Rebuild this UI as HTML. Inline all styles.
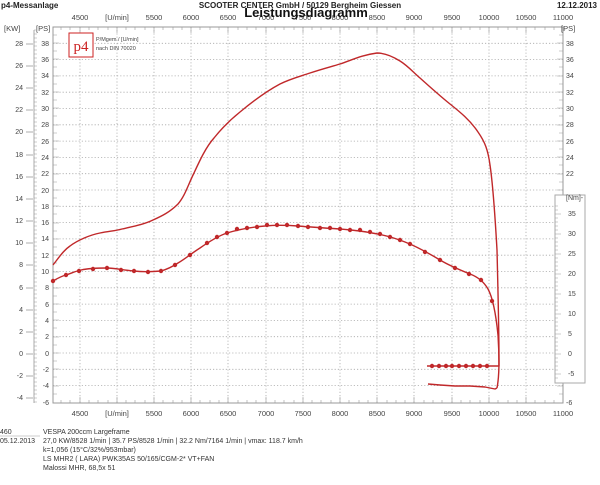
<!DOCTYPE html>
<html><head><meta charset="utf-8"><style>
html,body{margin:0;padding:0;background:#fff;}
svg{display:block;font-family:"Liberation Sans",sans-serif;}
</style></head><body>
<svg width="600" height="485" viewBox="0 0 600 485" xmlns="http://www.w3.org/2000/svg">
<rect width="600" height="485" fill="#fff"/>
<text x="1" y="8" font-size="8" font-weight="bold" fill="#222">p4-Messanlage</text>
<text x="300" y="8" font-size="8" font-weight="bold" fill="#222" text-anchor="middle">SCOOTER CENTER GmbH / 50129 Bergheim Giessen</text>
<text x="597" y="8" font-size="8" font-weight="bold" fill="#222" text-anchor="end">12.12.2013</text>
<g font-size="7.5" fill="#444" text-anchor="middle">
<text x="80" y="20">4500</text><text x="117" y="20">[U/min]</text><text x="154" y="20">5500</text><text x="191" y="20">6000</text><text x="228" y="20">6500</text><text x="266" y="20">7000</text><text x="303" y="20">7500</text><text x="340" y="20">8000</text><text x="377" y="20">8500</text><text x="414" y="20">9000</text><text x="452" y="20">9500</text><text x="489" y="20">10000</text><text x="526" y="20">10500</text><text x="563" y="20">11000</text>
<text x="80" y="416">4500</text><text x="117" y="416">[U/min]</text><text x="154" y="416">5500</text><text x="191" y="416">6000</text><text x="228" y="416">6500</text><text x="266" y="416">7000</text><text x="303" y="416">7500</text><text x="340" y="416">8000</text><text x="377" y="416">8500</text><text x="414" y="416">9000</text><text x="452" y="416">9500</text><text x="489" y="416">10000</text><text x="526" y="416">10500</text><text x="563" y="416">11000</text>
</g>
<text x="306" y="17" font-size="13" font-weight="bold" fill="#111" text-anchor="middle">Leistungsdiagramm</text>
<g stroke="#aaa" stroke-width="0.8" stroke-dasharray="1.2,2">
<line x1="80" y1="27" x2="80" y2="403"/><line x1="117" y1="27" x2="117" y2="403"/><line x1="154" y1="27" x2="154" y2="403"/><line x1="191" y1="27" x2="191" y2="403"/><line x1="228" y1="27" x2="228" y2="403"/><line x1="266" y1="27" x2="266" y2="403"/><line x1="303" y1="27" x2="303" y2="403"/><line x1="340" y1="27" x2="340" y2="403"/><line x1="377" y1="27" x2="377" y2="403"/><line x1="414" y1="27" x2="414" y2="403"/><line x1="452" y1="27" x2="452" y2="403"/><line x1="489" y1="27" x2="489" y2="403"/><line x1="526" y1="27" x2="526" y2="403"/>
<line x1="53" y1="43.3" x2="563" y2="43.3"/><line x1="53" y1="59.6" x2="563" y2="59.6"/><line x1="53" y1="75.9" x2="563" y2="75.9"/><line x1="53" y1="92.2" x2="563" y2="92.2"/><line x1="53" y1="108.5" x2="563" y2="108.5"/><line x1="53" y1="124.8" x2="563" y2="124.8"/><line x1="53" y1="141.1" x2="563" y2="141.1"/><line x1="53" y1="157.4" x2="563" y2="157.4"/><line x1="53" y1="173.7" x2="563" y2="173.7"/><line x1="53" y1="190" x2="563" y2="190"/><line x1="53" y1="206.3" x2="563" y2="206.3"/><line x1="53" y1="222.6" x2="563" y2="222.6"/><line x1="53" y1="238.9" x2="563" y2="238.9"/><line x1="53" y1="255.2" x2="563" y2="255.2"/><line x1="53" y1="271.5" x2="563" y2="271.5"/><line x1="53" y1="287.8" x2="563" y2="287.8"/><line x1="53" y1="304.1" x2="563" y2="304.1"/><line x1="53" y1="320.4" x2="563" y2="320.4"/><line x1="53" y1="336.7" x2="563" y2="336.7"/><line x1="53" y1="353" x2="563" y2="353"/><line x1="53" y1="369.3" x2="563" y2="369.3"/><line x1="53" y1="385.6" x2="563" y2="385.6"/>
</g>
<rect x="53" y="27" width="510" height="376" fill="none" stroke="#999" stroke-width="1"/>
<g font-size="7.5" fill="#444">
<text x="4" y="31">[KW]</text><text x="36" y="31">[PS]</text>
<text x="561" y="31">[PS]</text>
</g>
<g font-size="7" fill="#444" text-anchor="end">
<text x="23" y="46">28</text><text x="23" y="68">26</text><text x="23" y="90">24</text><text x="23" y="112">22</text><text x="23" y="134">20</text><text x="23" y="157">18</text><text x="23" y="179">16</text><text x="23" y="201">14</text><text x="23" y="223">12</text><text x="23" y="245">10</text><text x="23" y="267">8</text><text x="23" y="290">6</text><text x="23" y="312">4</text><text x="23" y="334">2</text><text x="23" y="356">0</text><text x="23" y="378">-2</text><text x="23" y="400">-4</text>
<text x="49" y="46">38</text><text x="49" y="62">36</text><text x="49" y="78">34</text><text x="49" y="95">32</text><text x="49" y="111">30</text><text x="49" y="127">28</text><text x="49" y="144">26</text><text x="49" y="160">24</text><text x="49" y="176">22</text><text x="49" y="193">20</text><text x="49" y="209">18</text><text x="49" y="225">16</text><text x="49" y="241">14</text><text x="49" y="258">12</text><text x="49" y="274">10</text><text x="49" y="290">8</text><text x="49" y="307">6</text><text x="49" y="323">4</text><text x="49" y="339">2</text><text x="49" y="356">0</text><text x="49" y="372">-2</text><text x="49" y="388">-4</text><text x="49" y="405">-6</text>
</g>
<g font-size="7" fill="#444">
<text x="566" y="46">38</text><text x="566" y="62">36</text><text x="566" y="78">34</text><text x="566" y="95">32</text><text x="566" y="111">30</text><text x="566" y="127">28</text><text x="566" y="144">26</text><text x="566" y="160">24</text><text x="566" y="176">22</text><text x="566" y="405">-6</text>
</g>
<g stroke="#888" stroke-width="0.7">
<line x1="34" y1="30" x2="34" y2="403"/>
<line x1="26" y1="44" x2="33" y2="44"/><line x1="26" y1="66" x2="33" y2="66"/><line x1="26" y1="88" x2="33" y2="88"/><line x1="26" y1="110" x2="33" y2="110"/><line x1="26" y1="132" x2="33" y2="132"/><line x1="26" y1="155" x2="33" y2="155"/><line x1="26" y1="177" x2="33" y2="177"/><line x1="26" y1="199" x2="33" y2="199"/><line x1="26" y1="221" x2="33" y2="221"/><line x1="26" y1="243" x2="33" y2="243"/><line x1="26" y1="265" x2="33" y2="265"/><line x1="26" y1="288" x2="33" y2="288"/><line x1="26" y1="310" x2="33" y2="310"/><line x1="26" y1="332" x2="33" y2="332"/><line x1="26" y1="354" x2="33" y2="354"/><line x1="26" y1="376" x2="33" y2="376"/><line x1="26" y1="398" x2="33" y2="398"/>
</g>
<g stroke="#999" stroke-width="0.6">
<path d="M34 30h3M34 34h3M34 38h3M34 42h3M34 46h3M34 50h3M34 54h3M34 58h3M34 62h3M34 66h3M34 70h3M34 74h3M34 78h3M34 82h3M34 86h3M34 90h3M34 94h3M34 98h3M34 102h3M34 106h3M34 110h3M34 114h3M34 118h3M34 122h3M34 126h3M34 130h3M34 134h3M34 138h3M34 142h3M34 146h3M34 150h3M34 154h3M34 158h3M34 162h3M34 166h3M34 170h3M34 174h3M34 178h3M34 182h3M34 186h3M34 190h3M34 194h3M34 198h3M34 202h3M34 206h3M34 210h3M34 214h3M34 218h3M34 222h3M34 226h3M34 230h3M34 234h3M34 238h3M34 242h3M34 246h3M34 250h3M34 254h3M34 258h3M34 262h3M34 266h3M34 270h3M34 274h3M34 278h3M34 282h3M34 286h3M34 290h3M34 294h3M34 298h3M34 302h3M34 306h3M34 310h3M34 314h3M34 318h3M34 322h3M34 326h3M34 330h3M34 334h3M34 338h3M34 342h3M34 346h3M34 350h3M34 354h3M34 358h3M34 362h3M34 366h3M34 370h3M34 374h3M34 378h3M34 382h3M34 386h3M34 390h3M34 394h3M34 398h3M34 402h3"/>
<path d="M53 35h4M53 43h6M53 51h4M53 59h6M53 67h4M53 76h6M53 84h4M53 92h6M53 100h4M53 108h6M53 116h4M53 125h6M53 133h4M53 141h6M53 149h4M53 157h6M53 165h4M53 174h6M53 182h4M53 190h6M53 198h4M53 206h6M53 214h4M53 223h6M53 231h4M53 239h6M53 247h4M53 255h6M53 263h4M53 272h6M53 280h4M53 288h6M53 296h4M53 304h6M53 312h4M53 320h6M53 328h4M53 337h6M53 345h4M53 353h6M53 361h4M53 369h6M53 377h4M53 386h6M53 394h4"/>
<path d="M563 35h-4M563 43h-6M563 51h-4M563 59h-6M563 67h-4M563 76h-6M563 84h-4M563 92h-6M563 100h-4M563 108h-6M563 116h-4M563 125h-6M563 133h-4M563 141h-6M563 149h-4M563 157h-6M563 165h-4M563 174h-6M563 182h-4M563 190h-6M563 386h-6M563 394h-4"/>
<path d="M53 403v-4M61 403v-3M70 403v-3M80 403v-6M89 403v-3M98 403v-3M108 403v-3M117 403v-6M126 403v-3M135 403v-3M145 403v-3M154 403v-6M163 403v-3M173 403v-3M182 403v-3M191 403v-6M200 403v-3M210 403v-3M219 403v-3M228 403v-6M238 403v-3M247 403v-3M256 403v-3M266 403v-6M275 403v-3M284 403v-3M294 403v-3M303 403v-6M312 403v-3M321 403v-3M331 403v-3M340 403v-6M349 403v-3M359 403v-3M368 403v-3M377 403v-6M387 403v-3M396 403v-3M405 403v-3M414 403v-6M424 403v-3M433 403v-3M442 403v-3M452 403v-6M461 403v-3M470 403v-3M480 403v-3M489 403v-6M498 403v-3M508 403v-3M517 403v-3M526 403v-6M535 403v-3M545 403v-3M554 403v-3"/>
<path d="M53 27v4M61 27v3M70 27v3M80 27v6M89 27v3M98 27v3M108 27v3M117 27v6M126 27v3M135 27v3M145 27v3M154 27v6M163 27v3M173 27v3M182 27v3M191 27v6M200 27v3M210 27v3M219 27v3M228 27v6M238 27v3M247 27v3M256 27v3M266 27v6M275 27v3M284 27v3M294 27v3M303 27v6M312 27v3M321 27v3M331 27v3M340 27v6M349 27v3M359 27v3M368 27v3M377 27v6M387 27v3M396 27v3M405 27v3M414 27v6M424 27v3M433 27v3M442 27v3M452 27v6M461 27v3M470 27v3M480 27v3M489 27v6M498 27v3M508 27v3M517 27v3M526 27v6M535 27v3M545 27v3M554 27v3"/>
</g>
<rect x="555" y="195" width="30" height="188" fill="#fff" stroke="#aaa" stroke-width="1"/>
<g stroke="#999" stroke-width="0.6">
<path d="M555 214h6M555 234h6M555 254h6M555 274h6M555 294h6M555 314h6M555 334h6M555 354h6M555 374h6"/>
<path d="M555 206h3M555 210h3M555 218h3M555 222h3M555 226h3M555 230h3M555 238h3M555 242h3M555 246h3M555 250h3M555 258h3M555 262h3M555 266h3M555 270h3M555 278h3M555 282h3M555 286h3M555 290h3M555 298h3M555 302h3M555 306h3M555 310h3M555 318h3M555 322h3M555 326h3M555 330h3M555 338h3M555 342h3M555 346h3M555 350h3M555 358h3M555 362h3M555 366h3M555 370h3M555 378h3"/>
</g>
<g font-size="7" fill="#444">
<text x="566" y="200">[Nm]-</text>
<text x="568" y="216">35</text><text x="568" y="236">30</text><text x="568" y="256">25</text><text x="568" y="276">20</text><text x="568" y="296">15</text><text x="568" y="316">10</text><text x="568" y="336">5</text><text x="568" y="356">0</text><text x="568" y="376">-5</text>
</g>
<rect x="69" y="33" width="24" height="24" fill="#fff" stroke="#c22" stroke-width="1"/>
<text x="81" y="51" font-size="15" fill="#c22" text-anchor="middle" font-family="Liberation Serif,serif">p4</text>
<text x="96" y="41" font-size="5.5" fill="#444">P/Mgem / [U/min]</text>
<text x="96" y="50" font-size="5.5" fill="#444">nach DIN 70020</text>
<g fill="none" stroke="#c0282a" stroke-width="1.4" stroke-linejoin="round">
<path d="M53,265 C60,256 64,250 70,246 C78,240 90,235 100,233 C110,231 115,231 122,229 C135,226 145,224 153,220 C162,216 170,212 178,204 C185,196 188,185 194,173 C200,160 206,147 214,138 C222,128 230,120 240,112 C252,102 265,92 280,84 C290,79 298,77 310,73 C322,69 330,67 340,64 C352,60 362,55 377,53 C385,53 392,56 400,61 C408,66 413,72 420,78 C430,87 440,96 450,104 C460,112 470,120 478,132 C485,142 488,150 490,165 C493,185 495,215 497,250 C498,290 499,330 499,360 C499,375 498,383 497,388"/>
<path d="M428,384 L440,385 L455,386 L470,386 L485,387 L495,389 L497,388"/>
<path d="M53,281 C58,278 62,276 66,275 C72,273 76,271 81,270 C90,268 100,268 107,268 C115,268 122,270 134,271 C142,272 150,272 161,271 C168,269 172,267 178,263 C185,259 192,253 200,248 C210,241 218,236 227,233 C240,229 252,227 265,226 C275,225 285,225 298,226 C310,227 325,228 340,229 C352,230 362,231 372,233 C385,235 395,238 405,242 C418,247 430,254 440,260 C450,266 460,270 470,274 C478,277 484,282 488,289 C493,298 496,315 498,335 C499,350 499,360 499,366 L427,366"/>
</g>
<g fill="#c0282a">
<circle cx="53" cy="281" r="2.2"/><circle cx="66" cy="275" r="2.2"/><circle cx="79" cy="271" r="2.2"/><circle cx="93" cy="269" r="2.2"/><circle cx="107" cy="268" r="2.2"/><circle cx="121" cy="270" r="2.2"/><circle cx="134" cy="271" r="2.2"/><circle cx="148" cy="272" r="2.2"/><circle cx="161" cy="271" r="2.2"/><circle cx="175" cy="265" r="2.2"/><circle cx="190" cy="255" r="2.2"/><circle cx="207" cy="243" r="2.2"/><circle cx="217" cy="237" r="2.2"/><circle cx="227" cy="233" r="2.2"/><circle cx="237" cy="229" r="2.2"/><circle cx="247" cy="228" r="2.2"/><circle cx="257" cy="227" r="2.2"/><circle cx="267" cy="225" r="2.2"/><circle cx="277" cy="225" r="2.2"/><circle cx="287" cy="225" r="2.2"/><circle cx="298" cy="226" r="2.2"/><circle cx="308" cy="227" r="2.2"/><circle cx="320" cy="228" r="2.2"/><circle cx="330" cy="228" r="2.2"/><circle cx="340" cy="229" r="2.2"/><circle cx="350" cy="230" r="2.2"/><circle cx="360" cy="230" r="2.2"/><circle cx="370" cy="232" r="2.2"/><circle cx="380" cy="234" r="2.2"/><circle cx="390" cy="237" r="2.2"/><circle cx="400" cy="240" r="2.2"/><circle cx="410" cy="244" r="2.2"/><circle cx="425" cy="252" r="2.2"/><circle cx="440" cy="260" r="2.2"/><circle cx="455" cy="268" r="2.2"/><circle cx="469" cy="274" r="2.2"/><circle cx="481" cy="280" r="2.2"/><circle cx="492" cy="301" r="2.2"/>
<circle cx="432" cy="366" r="2.2"/><circle cx="439" cy="366" r="2.2"/><circle cx="446" cy="366" r="2.2"/><circle cx="452" cy="366" r="2.2"/><circle cx="459" cy="366" r="2.2"/><circle cx="466" cy="366" r="2.2"/><circle cx="473" cy="366" r="2.2"/><circle cx="480" cy="366" r="2.2"/><circle cx="487" cy="366" r="2.2"/>
</g>
<g font-size="7" fill="#333">
<text x="0" y="434">460</text>
<line x1="0" y1="436" x2="40" y2="436" stroke="#999" stroke-width="0.6"/>
<text x="43" y="434">VESPA 200ccm Largeframe</text>
<text x="0" y="443">05.12.2013</text>
<text x="43" y="443">27,0 KW/8528 1/min  |  35.7 PS/8528 1/min  |  32.2 Nm/7164 1/min | vmax: 118.7 km/h</text>
<text x="43" y="452">k=1,056 (15°C/32%/953mbar)</text>
<text x="43" y="461">LS MHR2 ( LARA) PWK35AS 50/165/CGM-2* VT+FAN</text>
<text x="43" y="470">Malossi MHR, 68,5x 51</text>
</g>
</svg>
</body></html>
